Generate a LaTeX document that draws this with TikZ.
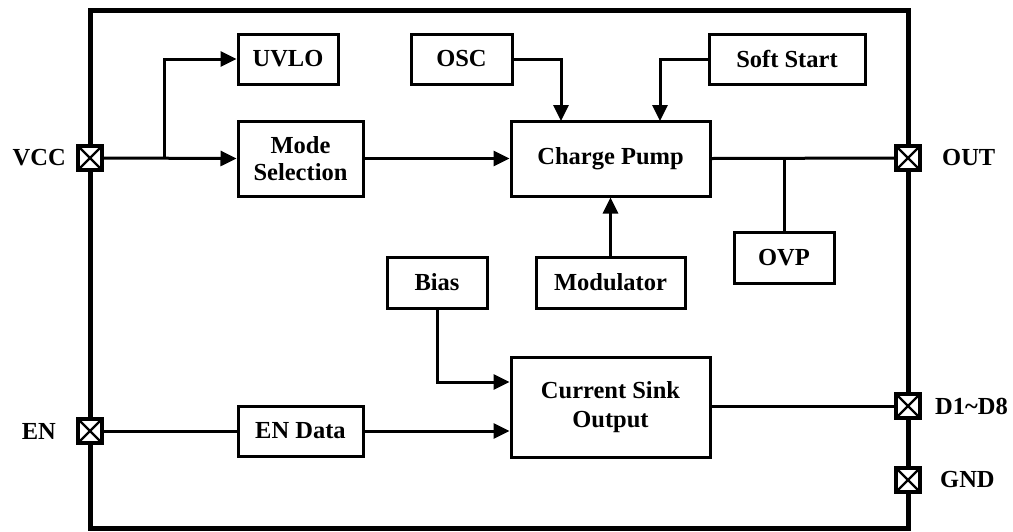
\documentclass[tikz,border=0pt]{standalone}
\usepackage{fontspec}
\setmainfont{Liberation Serif}
\usetikzlibrary{arrows.meta}
\begin{document}
\begin{tikzpicture}[x=1pt,y=-1pt,
  blk/.style={draw,line width=3pt,rectangle,inner sep=0pt,align=center,
    font=\fontsize{24.5}{27}\selectfont\bfseries},
  wire/.style={line width=3pt},
  arr/.style={wire,-{Triangle[length=16pt,width=15pt]}},
  pin/.style={draw,fill=white,line width=3.5pt,minimum size=24pt,inner sep=0pt,
    path picture={\draw[line width=2.4pt] (path picture bounding box.north west)--(path picture bounding box.south east)
      (path picture bounding box.north east)--(path picture bounding box.south west);}},
  lbl/.style={font=\fontsize{24.5}{28}\selectfont\bfseries,inner sep=0pt}]
\useasboundingbox (0,0) rectangle (1013,531);
% frame
\draw[line width=5pt] (90,10) rectangle (908,528);
% blocks
\node[blk,minimum width=100pt,minimum height=50pt] (uvlo) at (288,59) {UVLO};
\node[blk,minimum width=125pt,minimum height=75pt] (mode) at (300.5,158.5) {Mode\\Selection};
\node[blk,minimum width=101pt,minimum height=50pt] (osc) at (461.5,59) {OSC};
\node[blk,minimum width=156pt,minimum height=50pt] (soft) at (787,59) {Soft Start};
\node[blk,minimum width=199pt,minimum height=75pt] (cp) at (610.5,158.5) {Charge Pump};
\node[blk,minimum width=100pt,minimum height=51pt] (ovp) at (784,257.5) {OVP};
\node[blk,minimum width=149pt,minimum height=51pt] (mod) at (610.5,282.5) {Modulator};
\node[blk,minimum width=100pt,minimum height=51pt] (bias) at (437,282.5) {Bias};
\node[blk,minimum width=199pt,minimum height=100pt,font=\fontsize{24.5}{29}\selectfont\bfseries] (cs) at (610.5,407) {Current Sink\\Output};
\node[blk,minimum width=125pt,minimum height=50pt] (end) at (300.5,431) {EN Data};
% pins
\node[pin] (pvcc) at (90,158) {};
\node[pin] (pen) at (90,431) {};
\node[pin] (pout) at (908,158) {};
\node[pin] (pd) at (908,406) {};
\node[pin] (pgnd) at (908,480) {};
\node[lbl,anchor=east] (tvcc) at (66,158) {VCC};
\node[lbl,anchor=east] (ten) at (56,431) {EN};
\node[lbl,anchor=west] (tout) at (942,158) {OUT};
\node[lbl,anchor=west] (td) at (935,406) {D1\textasciitilde D8};
\node[lbl,anchor=west] (tgnd) at (940,480) {GND};
% connectors
\coordinate (j1) at (164,158);
\coordinate (j2) at (784,158);
\draw[arr] (pvcc.east) -- (mode.west);
\draw[arr] (j1) |- (uvlo.west);
\draw[arr] (mode.east) -- (cp.west);
\draw[arr] (osc.east) -| (561,121);
\draw[arr] (soft.west) -| (660,121);
\draw[arr] (mod.north) -- (cp.south);
\draw[wire] (cp.east) -- (pout.west);
\draw[wire] (j2) -- (ovp.north);
\draw[arr] (bias.south) |- (cs.west |- 0,382);
\draw[wire] (pen.east) -- (end.west);
\draw[arr] (end.east) -- (cs.west |- end.east);
\draw[wire] (cs.east |- pd.west) -- (pd.west);
\end{tikzpicture}
\end{document}
